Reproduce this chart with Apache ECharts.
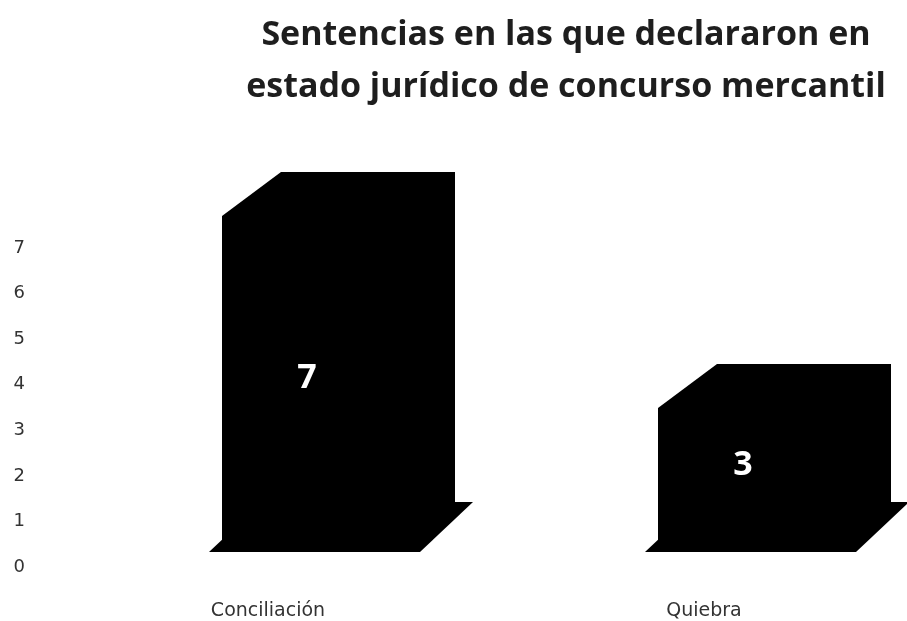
<!DOCTYPE html>
<html>
<head>
<meta charset="utf-8">
<script src="https://cdn.jsdelivr.net/npm/echarts@6/dist/echarts.min.js"></script>
<style>
  html, body { margin: 0; padding: 0; background: #fff; }
  #chart { width: 907px; height: 621px; }
</style>
</head>
<body>
<div id="chart"></div>
<script>
// Sentencias por tipo de concurso mercantil
const titleLines = ['Sentencias en las que declararon en', 'estado jurídico de concurso mercantil'];
const categories = ['Conciliación', 'Quiebra'];
const sentencias = [7, 3];
const yTicks = [0, 1, 2, 3, 4, 5, 6, 7];

// geometry of the pseudo-3D columns (pixels)
const FRONT_SHIFT = 41;   // front face centre is right of the category centre
const FRONT_W = 174;      // front face width
const DEPTH_X = 59, DEPTH_Y = -44;
const PLATE_L = 13, PLATE_R = 24, PLATE_DX = 53, PLATE_DY = -50;

const AXIS_FONT = '"DejaVu Sans", sans-serif';

const chart = echarts.init(document.getElementById('chart'));

function renderColumn(params, api) {
  const cat = api.value(0);
  const val = api.value(1);
  const top = api.coord([cat, val]);
  const base = api.coord([cat, 0]);
  const cx = top[0] + FRONT_SHIFT;
  const x0 = cx - FRONT_W / 2, x1 = cx + FRONT_W / 2;
  const yt = top[1], yb = base[1];
  const black = { fill: '#000' };
  return {
    type: 'group',
    children: [
      {
        type: 'polygon',
        shape: { points: [
          [x0 - PLATE_L, yb], [x1 + PLATE_R, yb],
          [x1 + PLATE_R + PLATE_DX, yb + PLATE_DY], [x0 - PLATE_L + PLATE_DX, yb + PLATE_DY]
        ] },
        style: black
      },
      {
        type: 'polygon',
        shape: { points: [
          [x0, yb], [x0, yt], [x0 + DEPTH_X, yt + DEPTH_Y],
          [x1 + DEPTH_X, yt + DEPTH_Y], [x1 + DEPTH_X, yb + DEPTH_Y], [x1, yb]
        ] },
        style: black
      },
      {
        type: 'text',
        style: {
          text: String(val),
          x: cx - 2,
          y: 0.45 * yt + 0.55 * yb - 22,
          fill: '#fff',
          font: 'bold 34px "Open Sans", "Noto Sans", sans-serif',
          align: 'center',
          verticalAlign: 'middle'
        }
      }
    ]
  };
}

chart.setOption({
  backgroundColor: '#fff',
  animation: false,
  title: {
    text: titleLines.join('\n'),
    left: 561,
    top: 4,
    textAlign: 'center',
    textStyle: {
      fontFamily: '"Open Sans", "Noto Sans", sans-serif',
      fontWeight: 'bold',
      fontSize: 34,
      lineHeight: 52,
      color: '#1e1e1e'
    }
  },
  grid: [
    // value scale labels
    { left: 50, right: 40, top: 248, bottom: 54 },
    // category labels, one category centre at each edge
    { left: 268, width: 436, top: 248, bottom: 54 },
    // columns
    { left: 268, width: 436, top: 216, bottom: 69 }
  ],
  xAxis: [
    { type: 'category', gridIndex: 0, data: categories, show: false },
    {
      type: 'category', gridIndex: 1, data: categories, boundaryGap: false,
      axisLine: { show: false }, axisTick: { show: false }, splitLine: { show: false },
      axisLabel: { margin: 36, fontSize: 19, color: '#333', fontFamily: AXIS_FONT }
    },
    { type: 'category', gridIndex: 2, data: categories, boundaryGap: false, show: false }
  ],
  yAxis: [
    {
      type: 'value', gridIndex: 0, min: yTicks[0], max: yTicks[yTicks.length - 1], interval: 1,
      axisLine: { show: false }, axisTick: { show: false }, splitLine: { show: false },
      axisLabel: { margin: 25, fontSize: 18, color: '#333', fontFamily: AXIS_FONT }
    },
    { type: 'value', gridIndex: 1, min: 0, max: 7, show: false, splitLine: { show: false } },
    { type: 'value', gridIndex: 2, min: 0, max: 7, show: false, splitLine: { show: false } }
  ],
  series: [{
    type: 'custom',
    xAxisIndex: 2,
    yAxisIndex: 2,
    clip: false,
    renderItem: renderColumn,
    data: categories.map((c, i) => [i, sentencias[i]])
  }]
});
</script>
</body>
</html>
